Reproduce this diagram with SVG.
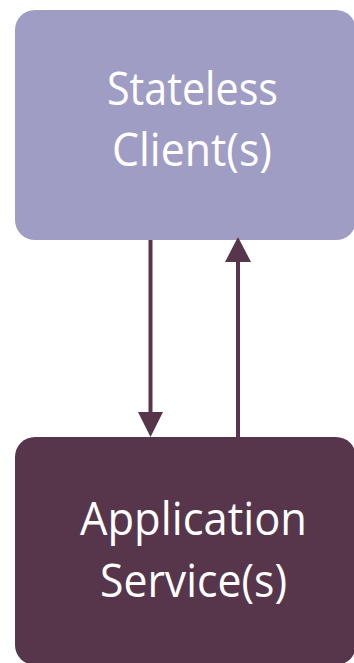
<svg xmlns="http://www.w3.org/2000/svg" width="354" height="663" viewBox="0 0 354 663">
  <defs>
    <style>
      .label { font-family: "Open Sans", "Noto Sans", "Liberation Sans", sans-serif; font-size: 45px; fill: #ffffff; text-anchor: middle; }
      .link { stroke: #57364b; stroke-width: 4; fill: none; }
      .tip { fill: #57364b; }
    </style>
  </defs>

  <g id="client">
    <rect x="15" y="10" width="341" height="230" rx="20" fill="#a09dc5"/>
    <text class="label" x="192.5" y="105" textLength="171" lengthAdjust="spacingAndGlyphs">Stateless</text>
    <text class="label" x="192" y="166" textLength="160" lengthAdjust="spacingAndGlyphs">Client(s)</text>
  </g>

  <g id="service">
    <rect x="15" y="437" width="341" height="228" rx="20" fill="#57364b"/>
    <text class="label" x="193.5" y="535" textLength="227" lengthAdjust="spacingAndGlyphs">Application</text>
    <text class="label" x="193.5" y="597" textLength="187" lengthAdjust="spacingAndGlyphs">Service(s)</text>
  </g>

  <g id="connectors">
    <path class="link" d="M150.5,240 V412"/>
    <path class="tip" d="M138,412 L150.5,437 L163,412 Z"/>
    <path class="link" d="M238,437 V262"/>
    <path class="tip" d="M225,262 L238,237 L251,262 Z"/>
  </g>
</svg>
